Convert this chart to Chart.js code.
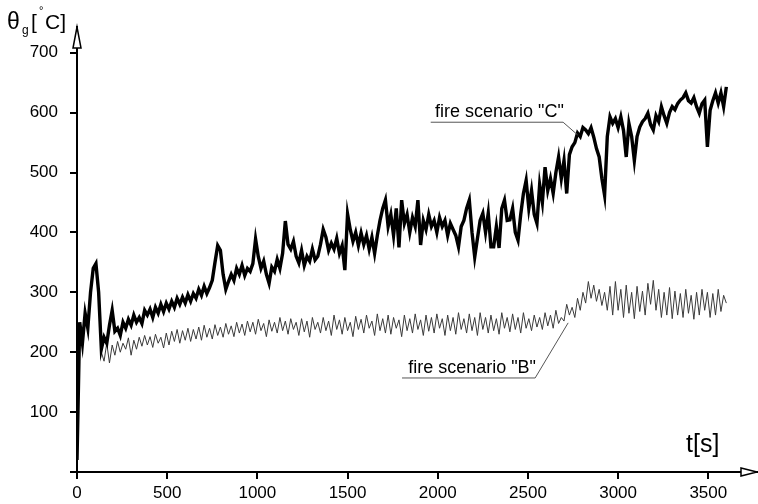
<!DOCTYPE html>
<html><head><meta charset="utf-8">
<script src="https://cdn.jsdelivr.net/npm/chart.js@4/dist/chart.umd.min.js"></script>
<style>html,body{margin:0;padding:0;background:#fff}#wrap{width:758px;height:504px;position:relative}</style>
</head><body><div id="wrap"><canvas id="c" width="758" height="504"></canvas></div>
<script>
// sampling interval of both series, seconds
const timeStep = 15;

// fire scenario "C" gas temperature [°C], samples every 15 s from 0 to 3600 s
const scenarioC = [
  20, 250, 215, 265, 240, 300, 340, 348, 300, 205,
  225, 215, 245, 270, 235, 240, 228, 250, 240, 255,
  245, 262, 250, 258, 248, 270, 262, 272, 258, 275,
  265, 280, 268, 282, 272, 285, 275, 290, 280, 292,
  282, 296, 285, 298, 290, 305, 295, 310, 298, 308,
  320, 350, 378, 370, 330, 305, 318, 330, 320, 340,
  330, 345, 328, 340, 335, 348, 389, 360, 340, 352,
  330, 315, 342, 335, 355, 340, 365, 419, 380, 372,
  385, 360, 349, 370, 345, 360, 352, 372, 354, 360,
  380, 405, 392, 370, 382, 372, 390, 365, 378, 337,
  431, 405, 385, 400, 378, 399, 380, 395, 372, 392,
  365, 395, 420, 440, 454, 410, 430, 395, 440, 375,
  454, 415, 430, 400, 425, 410, 454, 379, 420, 405,
  430, 410, 420, 400, 425, 410, 420, 395, 415, 405,
  395, 376, 410, 420, 440, 454, 400, 359, 390, 420,
  432, 400, 432, 376, 376, 410, 374, 440, 454, 420,
  421, 440, 400, 387, 430, 465, 487, 440, 470, 430,
  415, 480, 450, 509, 470, 490, 465, 500, 526, 490,
  520, 465, 530, 543, 550, 566, 560, 575, 571, 565,
  575, 559, 540, 526, 490, 462, 560, 593, 582, 590,
  575, 593, 570, 526, 582, 560, 520, 560, 576, 585,
  590, 599, 580, 571, 595, 585, 610, 595, 582, 600,
  610, 605, 615, 621, 625, 633, 620, 616, 625, 610,
  599, 615, 621, 543, 604, 620, 633, 616, 633, 610,
  643
];

// fire scenario "B" gas temperature [°C], samples every 15 s from 0 to 3600 s
const scenarioB = [
  20, 240, 220, 270, 250, 295, 335, 340, 290, 200,
  185, 215, 182, 212, 195, 218, 200, 215, 205, 224,
  195, 220, 205, 225, 210, 228, 212, 226, 208, 230,
  215, 225, 207, 232, 212, 235, 218, 238, 215, 236,
  220, 240, 218, 238, 222, 242, 220, 245, 225, 240,
  222, 246, 228, 242, 225, 248, 230, 244, 226, 250,
  232, 247, 228, 252, 234, 250, 230, 255, 236, 248,
  226, 254, 235, 250, 232, 258, 236, 252, 230, 256,
  238, 250, 228, 256, 234, 252, 225, 258, 238, 250,
  232, 258, 236, 252, 228, 262, 238, 254, 230, 258,
  236, 250, 226, 260, 238, 255, 232, 262, 240, 252,
  228, 264, 236, 256, 232, 262, 230, 258, 240, 254,
  226, 262, 236, 256, 232, 264, 238, 254, 228, 262,
  235, 258, 232, 264, 240, 256, 228, 262, 236, 258,
  230, 266, 238, 256, 232, 264, 236, 258, 228, 266,
  238, 258, 232, 262, 236, 256, 230, 266, 240, 258,
  234, 264, 238, 258, 232, 266, 240, 256, 236, 262,
  242, 258, 238, 266, 244, 262, 240, 270, 248, 258,
  252, 280, 262, 275, 258, 290, 270, 300, 282, 318,
  290, 312, 285, 305, 278, 300, 270, 310, 262, 318,
  270, 305, 258, 312, 265, 300, 256, 310, 268, 302,
  262, 315, 280, 320, 270, 305, 258, 300, 262, 308,
  256, 302, 262, 298, 258, 305, 265, 295, 255, 300,
  262, 305, 270, 300, 258, 298, 262, 305, 268, 295,
  282
];

const xTickValues = [0, 500, 1000, 1500, 2000, 2500, 3000, 3500];
const yTickValues = [0, 100, 200, 300, 400, 500, 600, 700];
const yTickLabels = ['', '100', '200', '300', '400', '500', '600', '700'];
const xAxisTitle = 't[s]';
const labelC = 'fire scenario "C"';
const labelB = 'fire scenario "B"';

const toPoints = arr => arr.map((v, i) => ({x: i * timeStep, y: v}));

const FONT = "'Liberation Sans', Arial, sans-serif";

const decor = {
  id: 'decor',
  afterDraw(chart) {
    const ctx = chart.ctx;
    const xs = chart.scales.x, ys = chart.scales.y;
    const ca = chart.chartArea;
    const px = v => xs.getPixelForValue(v), py = v => ys.getPixelForValue(v);
    ctx.save();
    // arrowheads
    ctx.lineWidth = 1.5; ctx.strokeStyle = '#000'; ctx.fillStyle = '#fff';
    ctx.beginPath();
    ctx.moveTo(ca.left, ca.top); ctx.lineTo(ca.left - 4, ca.top + 21); ctx.lineTo(ca.left + 4, ca.top + 21); ctx.closePath();
    ctx.fill(); ctx.stroke();
    ctx.beginPath();
    ctx.moveTo(ca.right, ca.bottom); ctx.lineTo(ca.right - 16, ca.bottom - 4); ctx.lineTo(ca.right - 16, ca.bottom + 4); ctx.closePath();
    ctx.fill(); ctx.stroke();

    // axis titles
    ctx.fillStyle = '#000';
    ctx.textBaseline = 'alphabetic'; ctx.textAlign = 'left';
    ctx.font = '25px ' + FONT;
    ctx.fillText(xAxisTitle, 686, 452);
    ctx.font = '23px ' + FONT;
    ctx.fillText('\u03B8', 7, 29);
    ctx.font = '12px ' + FONT;
    ctx.fillText('g', 22, 34);
    ctx.font = '21px ' + FONT;
    ctx.fillText('[', 31, 29);
    ctx.font = '11px ' + FONT;
    ctx.fillText('\u00B0', 39, 14);
    ctx.font = '21px ' + FONT;
    ctx.fillText('C]', 45, 29);

    // annotations
    ctx.font = '18px ' + FONT;
    ctx.fillText(labelC, px(1985), py(593));
    ctx.fillText(labelB, px(1836), py(165));
    ctx.strokeStyle = '#555'; ctx.lineWidth = 1;
    ctx.beginPath();
    ctx.moveTo(px(1961), py(584)); ctx.lineTo(px(2695), py(584)); ctx.lineTo(px(2775), py(563));
    ctx.stroke();
    ctx.beginPath();
    ctx.moveTo(px(1802), py(157)); ctx.lineTo(px(2540), py(157)); ctx.lineTo(px(2723), py(249));
    ctx.stroke();
    ctx.restore();
  }
};

new Chart(document.getElementById('c'), {
  type: 'line',
  data: {
    datasets: [
      {label: labelC, data: toPoints(scenarioC), borderColor: '#000', borderWidth: 3.4, pointRadius: 0, tension: 0, fill: false},
      {label: labelB, data: toPoints(scenarioB), borderColor: '#3a3a3a', borderWidth: 1, pointRadius: 0, tension: 0, fill: false}
    ]
  },
  options: {
    responsive: false,
    animation: false,
    events: [],
    layout: {padding: {top: 27, right: 1, left: 0, bottom: 0}},
    plugins: {legend: {display: false}, tooltip: {enabled: false}},
    scales: {
      x: {
        type: 'linear', min: 0, max: 3770,
        afterFit: s => { s.height = 32; },
        afterBuildTicks: s => { s.ticks = xTickValues.map(v => ({value: v})); },
        grid: {display: true, drawOnChartArea: false, drawTicks: true, tickLength: 7, color: '#000', lineWidth: 2},
        border: {display: true, color: '#000', width: 2},
        ticks: {color: '#000', font: {family: FONT, size: 17}, padding: 4, maxRotation: 0, autoSkip: false,
          callback: v => String(v)}
      },
      y: {
        type: 'linear', min: 0, max: 743,
        afterFit: s => { s.width = 77; },
        afterBuildTicks: s => { s.ticks = yTickValues.map(v => ({value: v})); },
        grid: {display: true, drawOnChartArea: false, drawTicks: true, tickLength: 7, color: '#000', lineWidth: 2},
        border: {display: true, color: '#000', width: 2},
        ticks: {color: '#000', font: {family: FONT, size: 17}, padding: 12, autoSkip: false,
          callback: v => yTickLabels[yTickValues.indexOf(v)]}
      }
    }
  },
  plugins: [decor]
});
</script>
</body></html>
